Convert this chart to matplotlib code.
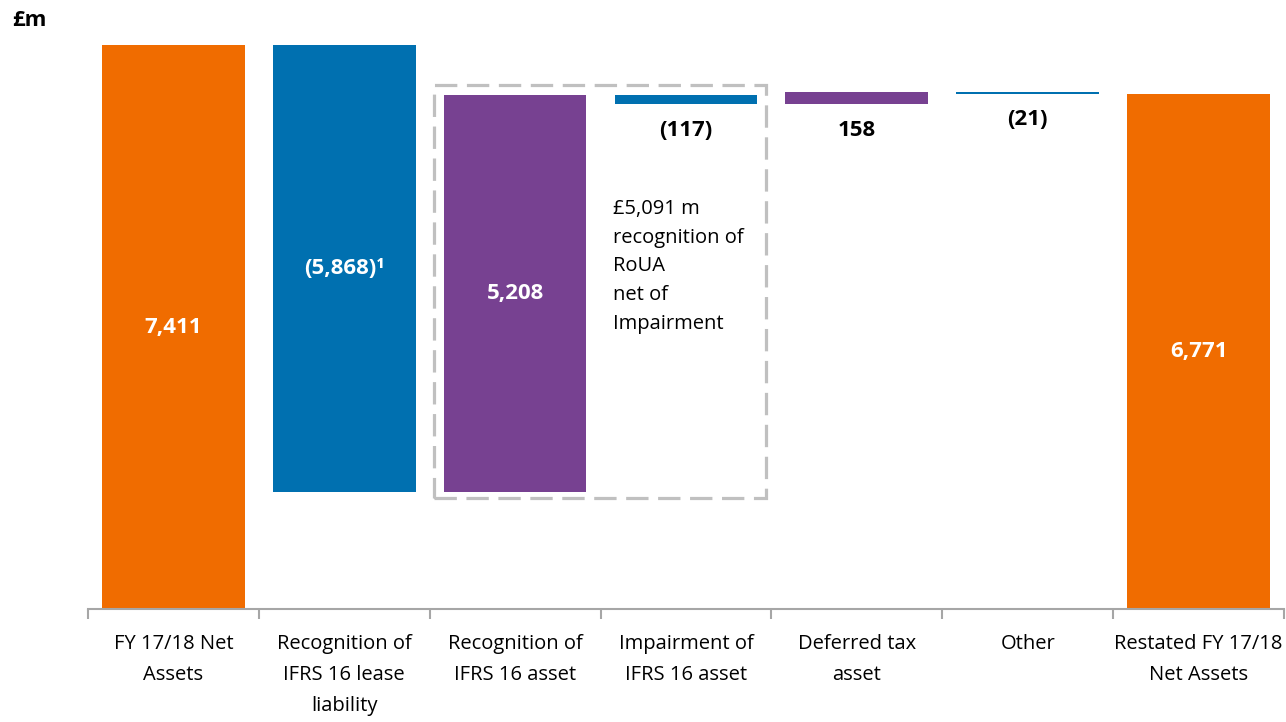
import matplotlib.pyplot as plt
from matplotlib.patches import Rectangle
import numpy as np

plt.rcParams['font.family'] = ['Open Sans', 'DejaVu Sans']

# Data
categories = ['FY 17/18 Net\nAssets', 'Recognition of\nIFRS 16 lease\nliability',
              'Recognition of\nIFRS 16 asset', 'Impairment of\nIFRS 16 asset',
              'Deferred tax\nasset', 'Other', 'Restated FY 17/18\nNet Assets']
changes = [7411, -5868, 5208, -117, 158, -21]
total_end = 6771
value_labels = ['7,411', '(5,868)\u00b9', '5,208', '(117)', '158', '(21)', '6,771']
kinds = ['total', 'neg', 'pos', 'neg', 'pos', 'neg', 'total']

col_total = '#F06C00'
col_neg = '#0070B0'
col_pos = '#774191'
colors = {'total': col_total, 'neg': col_neg, 'pos': col_pos}

# Waterfall geometry
bottoms, heights = [], []
running = 0
for i, c in enumerate(changes):
    if i == 0:
        bottoms.append(0)
        heights.append(c)
        running = c
    else:
        new = running + c
        bottoms.append(min(running, new))
        heights.append(abs(c))
        running = new
bottoms.append(0)
heights.append(total_end)

x = np.arange(len(categories))
width = 0.835

fig = plt.figure(figsize=(12.86, 7.22), dpi=100)
ax = fig.add_axes([0.0684, 0.1565, 0.93, 0.822])

ax.bar(x, heights, bottom=bottoms, width=width,
       color=[colors[k] for k in kinds], linewidth=0)

# Value labels
for i, (b, h, lab, k) in enumerate(zip(bottoms, heights, value_labels, kinds)):
    if h > 1000:
        ax.text(x[i], b + h / 2, lab, ha='center', va='center', color='white',
                fontsize=16, fontweight='bold')
    else:
        ax.text(x[i], b - 340, lab, ha='center', va='center', color='black',
                fontsize=16, fontweight='bold')

# Dashed box around asset recognition + impairment
box_left = x[2] - width / 2 - 0.06
box_right = x[3] + width / 2 + 0.05
box_bottom = bottoms[1] - 85
box_top = bottoms[2] + heights[2] + 135
ax.add_patch(Rectangle((box_left, box_bottom), box_right - box_left, box_top - box_bottom,
                       fill=False, edgecolor='#C0C0C0', linewidth=2.3,
                       linestyle=(0, (7, 3)), clip_on=False))

ax.text(x[3] - width / 2 - 0.01, 5390,
        '£5,091 m\nrecognition of\nRoUA\nnet of\nImpairment',
        ha='left', va='top', fontsize=14.5, color='black', linespacing=1.58)

# Axes styling
ax.set_xlim(-0.5, len(categories) - 0.5)
ax.set_ylim(0, 7800)
for s in ['top', 'right', 'left']:
    ax.spines[s].set_visible(False)
ax.spines['bottom'].set_color('#A6A6A6')
ax.spines['bottom'].set_linewidth(1.5)
ax.set_yticks([])

ax.set_xticks(np.arange(-0.5, len(categories)), minor=False)
ax.set_xticklabels([])
ax.tick_params(axis='x', which='major', direction='out', length=7, width=1.5, color='#A6A6A6')
ax.set_xticks(x, minor=True)
ax.set_xticklabels(categories, minor=True, fontsize=14.5, linespacing=1.72)
ax.tick_params(axis='x', which='minor', length=0, pad=18)

fig.text(12 / 1286, 1 - 21 / 722, '£m', ha='left', va='center', fontsize=16, fontweight='bold')

fig.savefig('out.png', dpi=100)
